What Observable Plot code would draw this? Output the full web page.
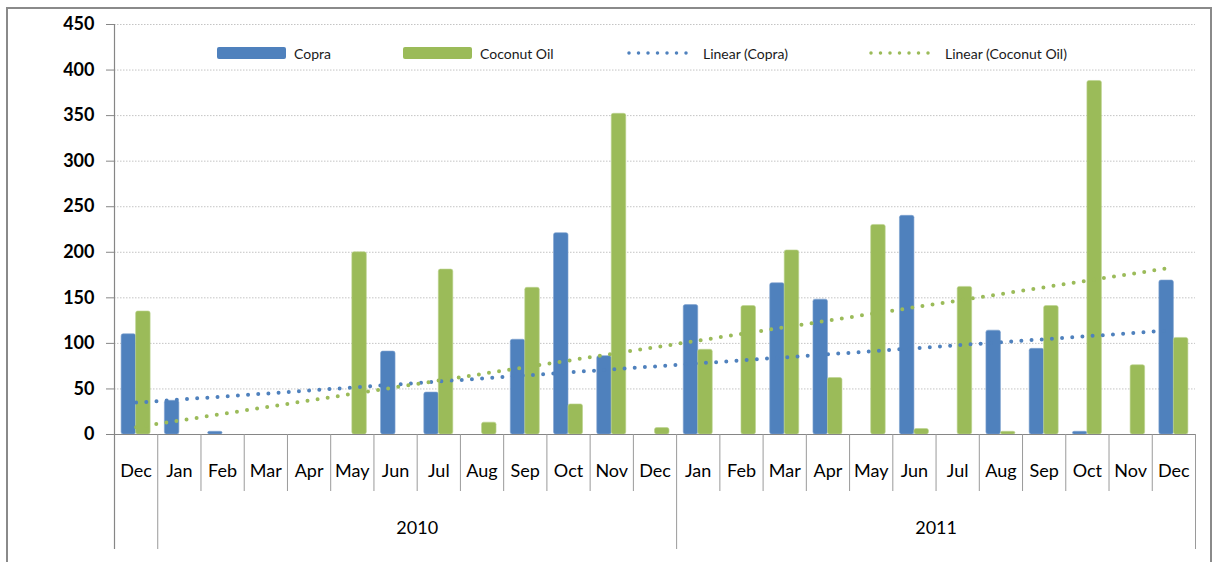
<!DOCTYPE html>
<html><head><meta charset="utf-8">
<script src="https://cdn.jsdelivr.net/npm/d3@7"></script>
<script src="https://cdn.jsdelivr.net/npm/@observablehq/plot@0.6"></script>
<style>
body{margin:0;background:#fff;}
#wrap{position:relative;width:1213px;height:562px;overflow:hidden;font-family:Lato,"Open Sans",sans-serif;}
#frame{position:absolute;left:6px;top:7px;width:1206px;height:600px;border:2px solid #8a8a8a;box-sizing:border-box;pointer-events:none;}
#chart{position:absolute;left:0;top:0;}
.leg{position:absolute;top:45px;height:16px;display:flex;align-items:center;font-size:14px;color:#1a1a1a;white-space:nowrap;}
.sw{width:69px;height:12px;border-radius:2px;margin-right:8px;}
.leg svg{margin-right:12px;}
</style></head>
<body>
<div id="wrap">
  <div id="chart"></div>
  <div id="frame"></div>
  <div id="legend"></div>
</div>
<script>
// ---- data ----
const categories = ["Dec 2009","Jan 2010","Feb 2010","Mar 2010","Apr 2010","May 2010","Jun 2010","Jul 2010","Aug 2010","Sep 2010","Oct 2010","Nov 2010","Dec 2010","Jan 2011","Feb 2011","Mar 2011","Apr 2011","May 2011","Jun 2011","Jul 2011","Aug 2011","Sep 2011","Oct 2011","Nov 2011","Dec 2011"];
const monthLabels = ["Dec","Jan","Feb","Mar","Apr","May","Jun","Jul","Aug","Sep","Oct","Nov","Dec","Jan","Feb","Mar","Apr","May","Jun","Jul","Aug","Sep","Oct","Nov","Dec"];
const copra      = [110,37,3,0,0,0,91,46,0,104,221,86,0,142,0,166,148,0,240,0,114,94,3,0,169];
const coconutOil = [135,0,0,0,0,200,0,181,13,161,33,352,7,93,141,202,62,230,6,162,3,141,388,76,106];
const trendCopra      = [35, 114.5];   // linear trend at first and last category
const trendCoconutOil = [8, 183.5];
const yTicks = [0,50,100,150,200,250,300,350,400,450];
const years = ["2010","2011"];
const yearStart = ["Jan 2010","Jan 2011"];
const yearMid = ["Jul 2010","Jul 2011"];
const seriesNames = ["Copra","Coconut Oil","Linear (Copra)","Linear (Coconut Oil)"];
const colors = {copra:"#4F81BD", oil:"#9BBB59"};

// ---- layout ----
const W = 1213, H = 562, mL = 114, mR = 18, mT = 24, mB = 128;
const bw = (W - mL - mR) / categories.length;
const barW = 14.5;
const frameH = H - mT - mB;

const rows = categories.map((c, i) => ({cat: c, copra: copra[i], oil: coconutOil[i]}));
const monthOf = new Map(categories.map((c, i) => [c, monthLabels[i]]));
const first = categories[0], last = categories[categories.length - 1];
const trendRowsCopra = [{cat: first, v: trendCopra[0]}, {cat: last, v: trendCopra[1]}];
const trendRowsOil = [{cat: first, v: trendCoconutOil[0]}, {cat: last, v: trendCoconutOil[1]}];
const innerSeps = categories.slice(1).filter(c => !yearStart.includes(c));
const axisGray = "#868686";

const plot = Plot.plot({
  width: W, height: H,
  marginLeft: mL, marginRight: mR, marginTop: mT, marginBottom: mB,
  style: {fontFamily: "Lato, 'Open Sans', sans-serif", color: "#000", background: "transparent"},
  x: {type: "band", domain: categories, padding: 0, round: false, axis: null},
  y: {domain: [0, 450], axis: null},
  marks: [
    Plot.ruleY(yTicks.filter(d => d > 0), {stroke: "#c4c4c4", strokeDasharray: "1.5,1.5", strokeWidth: 1}),
    Plot.barY(rows.filter(d => d.copra > 0), {x: "cat", y: "copra", fill: colors.copra, stroke: "#7fa3d0", strokeWidth: 0.6,
      insetLeft: bw / 2 - barW, insetRight: bw / 2, rx: 2}),
    Plot.barY(rows.filter(d => d.oil > 0), {x: "cat", y: "oil", fill: colors.oil, stroke: "#bcd38e", strokeWidth: 0.6,
      insetLeft: bw / 2, insetRight: bw / 2 - barW, rx: 2}),
    Plot.ruleY([0], {stroke: axisGray, strokeWidth: 1.2}),
    // left value axis line (extends down through the category rows)
    Plot.ruleX([first], {dx: -bw / 2, insetBottom: -115, stroke: axisGray, strokeWidth: 1.2}),
    // month separators
    Plot.ruleX(innerSeps, {dx: -bw / 2, insetTop: frameH, insetBottom: -57, stroke: "#9a9a9a", strokeWidth: 1}),
    // year separators
    Plot.ruleX(yearStart, {dx: -bw / 2, insetTop: frameH, insetBottom: -115, stroke: "#9a9a9a", strokeWidth: 1}),
    Plot.ruleX([last], {dx: bw / 2, insetTop: frameH, insetBottom: -115, stroke: "#9a9a9a", strokeWidth: 1}),
    // trend lines
    Plot.line(trendRowsCopra, {x: "cat", y: "v", stroke: colors.copra, strokeWidth: 4, strokeDasharray: "0,10.2", strokeLinecap: "round"}),
    Plot.line(trendRowsOil, {x: "cat", y: "v", stroke: colors.oil, strokeWidth: 4, strokeDasharray: "0,10.2", strokeLinecap: "round"}),
    // axes
    Plot.axisY(yTicks, {tickSize: 8, tickPadding: 12, fontSize: 18, fontWeight: "bold", stroke: axisGray, fill: "#000", label: null}),
    Plot.axisX({tickSize: 0, tickPadding: 30, fontSize: 18, tickFormat: d => monthOf.get(d), fill: "#000", label: null}),
    Plot.text(years, {x: (d, i) => yearMid[i], text: d => d, frameAnchor: "bottom", dx: -bw / 2, dy: 99, fontSize: 18, fill: "#000"})
  ]
});
document.getElementById("chart").appendChild(plot);

// ---- legend ----
const legend = document.getElementById("legend");
const legItems = [
  {name: seriesNames[0], left: 217, kind: "bar", color: colors.copra},
  {name: seriesNames[1], left: 403, kind: "bar", color: colors.oil},
  {name: seriesNames[2], left: 627, kind: "dot", color: colors.copra},
  {name: seriesNames[3], left: 869, kind: "dot", color: colors.oil}
];
for (const it of legItems) {
  const d = document.createElement("div");
  d.className = "leg";
  d.style.left = it.left + "px";
  if (it.kind === "bar") {
    d.innerHTML = `<div class="sw" style="background:${it.color}"></div><span>${it.name}</span>`;
  } else {
    d.innerHTML = `<svg width="64" height="8"><line x1="2" y1="4" x2="60" y2="4" stroke="${it.color}" stroke-width="3.5" stroke-dasharray="0,9.5" stroke-linecap="round"/></svg><span>${it.name}</span>`;
  }
  legend.appendChild(d);
}
</script>
</body></html>
